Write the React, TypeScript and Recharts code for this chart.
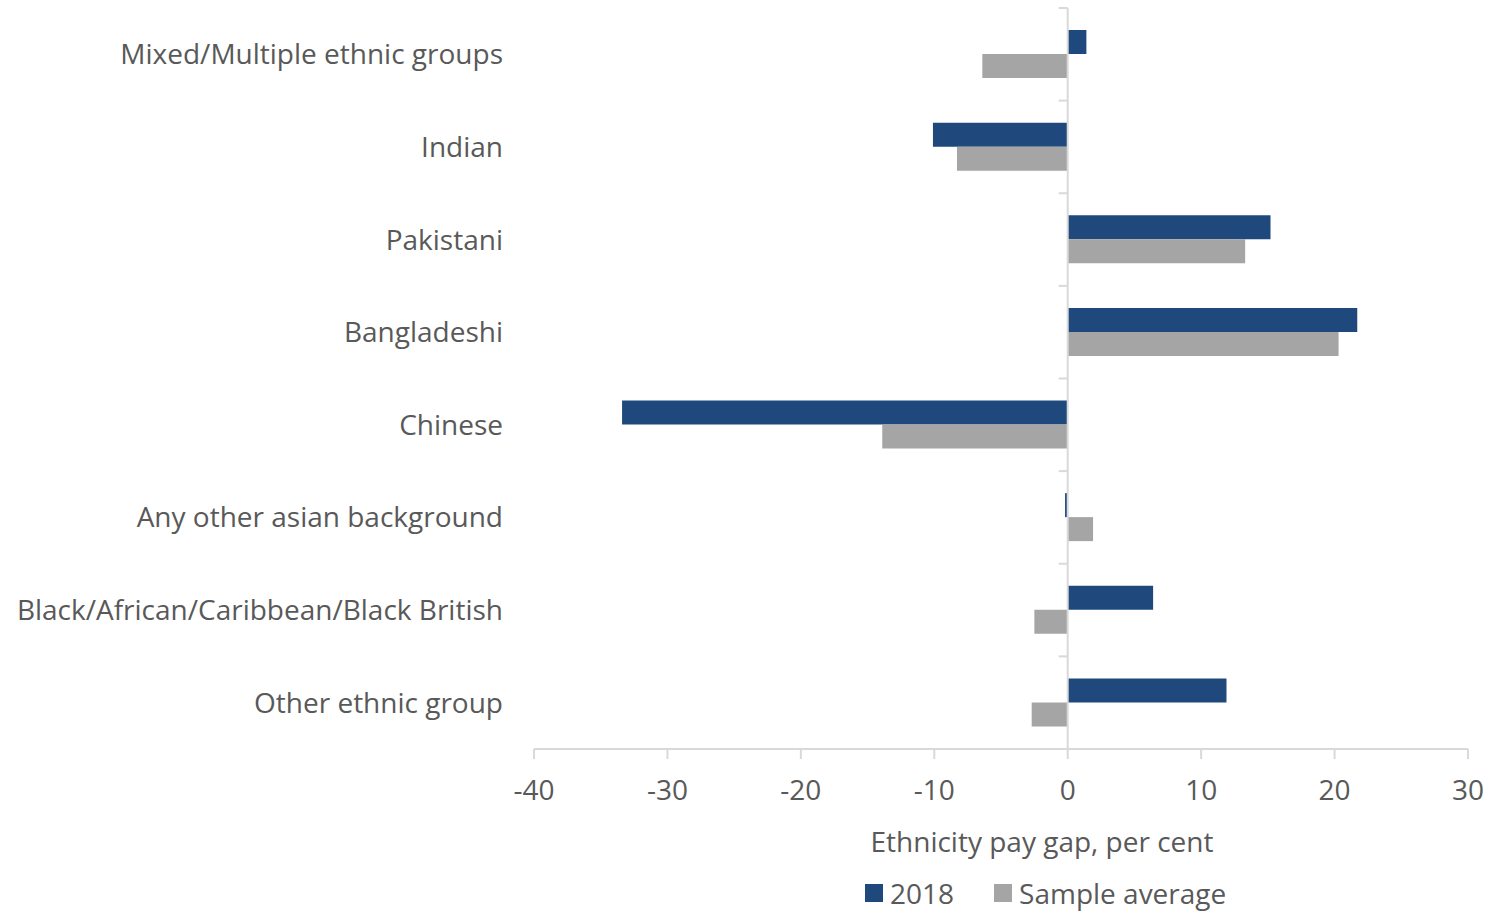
import { Bar, BarChart, Legend, ReferenceLine, XAxis, YAxis } from "recharts"

const groups = [
  "Mixed/Multiple ethnic groups",
  "Indian",
  "Pakistani",
  "Bangladeshi",
  "Chinese",
  "Any other asian background",
  "Black/African/Caribbean/Black British",
  "Other ethnic group",
]
const gap2018 = [1.4, -10.1, 15.2, 21.7, -33.4, -0.2, 6.4, 11.9]
const gapSample = [-6.4, -8.3, 13.3, 20.3, -13.9, 1.9, -2.5, -2.7]
const xTicks = [-40, -30, -20, -10, 0, 10, 20, 30]

const data = groups.map((name, i) => ({ name, y2018: gap2018[i], sample: gapSample[i] }))

const FONT = "'Open Sans', sans-serif"
const TEXT = "#595959"
const AXIS = "#d9d9d9"

function ZeroAxis(props: any) {
  const { x1, y1, y2 } = props
  const step = (y2 - y1) / groups.length
  const marks = Array.from({ length: groups.length + 1 }, (_, i) => y1 + i * step)
  return (
    <g>
      <line x1={x1} y1={y1} x2={x1} y2={y2} stroke={AXIS} strokeWidth={2} />
      {marks.map((y, i) => (
        <line key={i} x1={x1 - 9} y1={y} x2={x1} y2={y} stroke={AXIS} strokeWidth={2} />
      ))}
    </g>
  )
}

function LegendBox() {
  const item = (color: string, label: string, ml: number) => (
    <span style={{ display: "inline-flex", alignItems: "center", marginLeft: ml }}>
      <span style={{ width: 18, height: 18, background: color, display: "inline-block", marginRight: 7 }} />
      <span>{label}</span>
    </span>
  )
  return (
    <div
      style={{
        fontFamily: FONT,
        fontSize: 28,
        color: TEXT,
        height: 36,
        paddingTop: 14,
        display: "flex",
        alignItems: "center",
        paddingLeft: 865,
      }}
    >
      {item("#1F497D", "2018", 0)}
      {item("#A5A5A5", "Sample average", 40)}
    </div>
  )
}

export default function App() {
  return (
    <div style={{ position: "absolute", left: 0, top: 0 }}>
      <BarChart
        width={1491}
        height={911}
        data={data}
        layout="vertical"
        margin={{ top: 8, right: 23, bottom: 0, left: 0 }}
        barSize={24}
        barGap={0}
      >
        <XAxis
          type="number"
          domain={[-40, 30]}
          ticks={xTicks}
          interval={0}
          height={112}
          tickSize={10}
          tickMargin={21}
          axisLine={{ stroke: AXIS, strokeWidth: 2 }}
          tickLine={{ stroke: AXIS, strokeWidth: 2 }}
          tick={{ fill: TEXT, fontSize: 28, fontFamily: FONT }}
          label={({ viewBox }: any) => (
            <text
              x={viewBox.x + viewBox.width / 2 + 41}
              y={viewBox.y + 103}
              textAnchor="middle"
              fill={TEXT}
              fontSize={28}
              fontFamily={FONT}
            >
              Ethnicity pay gap, per cent
            </text>
          )}
        />
        <YAxis
          type="category"
          dataKey="name"
          width={534}
          axisLine={false}
          tickLine={false}
          tickSize={0}
          tickMargin={31}
          interval={0}
          tick={{ fill: TEXT, fontSize: 28, fontFamily: FONT }}
        />
        <Legend verticalAlign="bottom" height={50} content={() => <LegendBox />} />
        <Bar dataKey="y2018" name="2018" fill="#1F497D" isAnimationActive={false} />
        <Bar dataKey="sample" name="Sample average" fill="#A5A5A5" isAnimationActive={false} />
        <ReferenceLine x={0} shape={(p: any) => <ZeroAxis {...p} />} />
      </BarChart>
    </div>
  )
}
